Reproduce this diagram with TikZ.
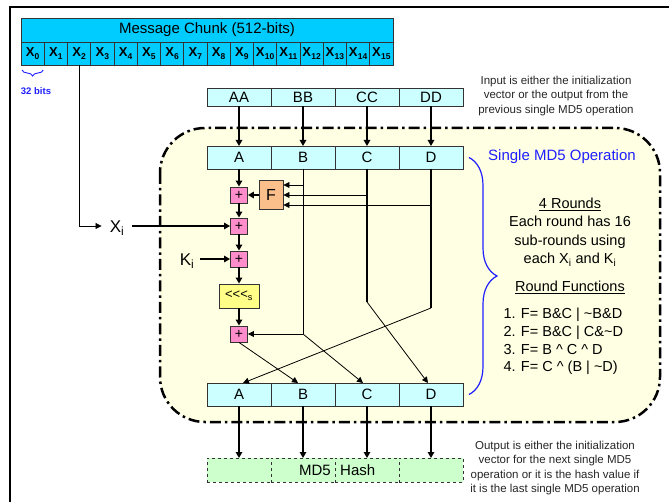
\documentclass[tikz,border=0pt]{standalone}
\usepackage{fontspec}
\setmainfont{Liberation Sans}
\usetikzlibrary{arrows.meta,positioning,calc,decorations.pathreplacing}
\definecolor{chunkblue}{HTML}{00CCFF}
\definecolor{regcyan}{HTML}{CCFFFF}
\definecolor{opbg}{HTML}{FFFFE3}
\definecolor{pluspink}{HTML}{FF8CCB}
\definecolor{fpeach}{HTML}{FBBF8C}
\definecolor{rotyellow}{HTML}{FFFF88}
\definecolor{hashgreen}{HTML}{CCFFCC}
\definecolor{opblue}{HTML}{1F1FFF}

\begin{document}
\begin{tikzpicture}[x=1pt,y=-1pt,font=\fontsize{15}{17}\selectfont,
  reg/.style={draw=black!80,line width=0.9pt,fill=regcyan,minimum width=64pt,minimum height=23pt,inner sep=0pt,outer sep=0pt},
  xcell/.style={draw=black!80,line width=0.9pt,fill=chunkblue,minimum width=23.25pt,minimum height=23pt,inner sep=0pt,outer sep=0pt,font=\fontsize{13}{14}\selectfont\bfseries},
  hcell/.style={reg,fill=hashgreen,dashed,minimum height=24pt},
  plus/.style={draw=black!80,line width=0.9pt,fill=pluspink,minimum width=17pt,minimum height=16pt,inner sep=0pt,font=\fontsize{14}{14}\selectfont},
  fbox/.style={draw=black!80,line width=0.9pt,fill=fpeach,minimum width=24pt,minimum height=29pt,inner sep=0pt,font=\fontsize{16}{16}\selectfont},
  rotbox/.style={draw=black!80,line width=0.9pt,fill=rotyellow,minimum width=40pt,minimum height=24pt,inner sep=0pt,font=\fontsize{13}{13}\selectfont},
  arr/.style={-{Triangle[length=6pt,width=6.5pt]},line width=1.6pt},
  thinarr/.style={-{Triangle[length=6pt,width=6pt]},line width=0.8pt},
  note/.style={align=center,font=\fontsize{11.5}{14.5}\selectfont,text=black!85}]
\useasboundingbox (0,0) rectangle (669,502);

% ---- frame and operation region
\draw[line width=2.6pt] (10,510) -- (10,7) -- (680,7);
\draw[line width=2.5pt,dash pattern=on 11pt off 4pt on 2.5pt off 4pt,fill=opbg,rounded corners=45pt]
  (160,128) rectangle (660,422);

% ---- message chunk
\node[xcell,font=\fontsize{15}{17}\selectfont,minimum width=372pt,minimum height=24pt] (chunk) at (207,30) {Message Chunk (512-bits)};
\foreach \i in {0,...,15}
  \node[xcell] (x\i) at ({32.625+23.25*\i},53.5) {X\kern0.3pt\raisebox{-2.5pt}{\fontsize{8.5}{8.5}\selectfont\i}};
\draw[decorate,decoration={brace,mirror,amplitude=6pt},opblue,line width=0.9pt]
  ([xshift=1pt,yshift=-5pt]x0.south west) -- ([xshift=-1pt,yshift=-5pt]x0.south east);
\node[text=opblue,font=\fontsize{9.5}{10}\selectfont\bfseries] (bitslbl) at (36,91) {32 bits};

% ---- input registers
\node[reg,minimum height=18pt] (aa) at (239,97) {AA};
\node[reg,minimum height=18pt,right=0pt of aa] (bb) {BB};
\node[reg,minimum height=18pt,right=0pt of bb] (cc) {CC};
\node[reg,minimum height=18pt,right=0pt of cc] (dd) {DD};
\node[note] (innote) at (556,96) {Input is either the initialization\\vector or the output from the\\previous single MD5 operation};

% ---- registers at start of round
\node[reg] (a) at (239,157.5) {A};
\node[reg,right=0pt of a] (b) {B};
\node[reg,right=0pt of b] (c) {C};
\node[reg,right=0pt of c] (d) {D};
\foreach \s/\t in {aa/a,bb/b,cc/c,dd/d}
  \draw[arr] (\s) -- (\t);

% ---- round function chain
\node[plus] (p1) at (239,195) {+};
\node[fbox] (f) at (271,195) {F};
\node[plus] (p2) at (239,226) {+};
\node[plus] (p3) at (239,259) {+};
\node[rotbox] (rot) at (239,296) {<\kern0pt<\kern0pt<\textsubscript{s}};
\node[plus] (p4) at (239,334) {+};
\node[inner xsep=8pt,font=\fontsize{17}{18}\selectfont] (xi) at (117,228) {X\textsubscript{i}};
\node[inner xsep=6pt,font=\fontsize{17}{18}\selectfont] (ki) at (187,261) {K\textsubscript{i}};

\draw[arr] (a) -- (p1);
\draw[arr] (p1) -- (p2);
\draw[arr] (p2) -- (p3);
\draw[arr] (p3) -- (rot);
\draw[arr] (rot) -- (p4);
\draw[arr] (f) -- (p1);
\draw[arr] (xi.east |- p2) -- (p2);
\draw[arr] (ki.east |- p3) -- (p3);
\draw[thinarr] (x2.south) |- (xi.west |- p2);

% ---- B, C, D paths
\coordinate (bbend) at (b.south |- p4.east);
\coordinate (cbend) at (c.south |- 0,302);
\coordinate (dbend) at (d.south |- 0,308);
\draw[line width=0.8pt] (b.south) -- (bbend);
\draw[line width=1.3pt] (c.south) -- (cbend);
\draw[line width=1.3pt] (d.south) -- (dbend);
\draw[thinarr] (b.south) |- ([yshift=10pt]f.east);
\draw[thinarr] (c.south) |- (f.east);
\draw[thinarr] (d.south) |- ([yshift=-10pt]f.east);

% ---- registers at end of round
\node[reg] (a2) at (239,394.5) {A};
\node[reg,right=0pt of a2] (b2) {B};
\node[reg,right=0pt of b2] (c2) {C};
\node[reg,right=0pt of c2] (d2) {D};
\draw[thinarr] (bbend) -- (p4);
\draw[thinarr] (p4.south) -- ([xshift=-5pt]b2.north);
\draw[thinarr] (bbend) -- ([xshift=-4pt]c2.north);
\draw[thinarr] (cbend) -- ([xshift=-3pt]d2.north);
\draw[thinarr] (dbend) -- ([xshift=4pt]a2.north);

% ---- annotation of the operation
\node[text=opblue] (oplbl) at (562,157) {Single MD5 Operation};
\draw[decorate,decoration={brace,amplitude=28pt},opblue,line width=1.2pt]
  ([xshift=6pt]d.east) -- ([xshift=6pt]d2.east);
\node[align=center,font=\fontsize{14.5}{18.5}\selectfont] (rounds) at (570,232)
  {\underline{4 Rounds}\\Each round has 16\\sub-rounds using\\each X\textsubscript{i} and K\textsubscript{i}};
\node[font=\fontsize{14.5}{16}\selectfont] (funcs) at (570,287) {\underline{Round Functions}};
\node[align=left,anchor=west,font=\fontsize{14.5}{17.7}\selectfont] (flist) at (500,341.5)
  {1. F= B\&C | \textasciitilde B\&D\\2. F= B\&C | C\&\textasciitilde D\\3. F= B \textasciicircum{} C \textasciicircum{} D\\4. F= C \textasciicircum{} (B | \textasciitilde D)};

% ---- output hash
\node[hcell] (h1) at (239,470) {};
\node[hcell,right=0pt of h1] (h2) {};
\node[hcell,right=0pt of h2] (h3) {};
\node[hcell,right=0pt of h3] (h4) {};
\node[anchor=east,inner xsep=4pt] (md5lbl) at (h2.east) {MD5};
\node[anchor=west,inner xsep=5pt] (hashlbl) at (h3.west) {Hash};
\foreach \s/\t in {a2/h1,b2/h2,c2/h3,d2/h4}
  \draw[arr] (\s) -- (\t);
\node[note] (outnote) at (555,468) {Output is either the initialization\\vector for the next single MD5\\operation or it is the hash value if\\it is the last single MD5 operation};
\end{tikzpicture}
\end{document}
